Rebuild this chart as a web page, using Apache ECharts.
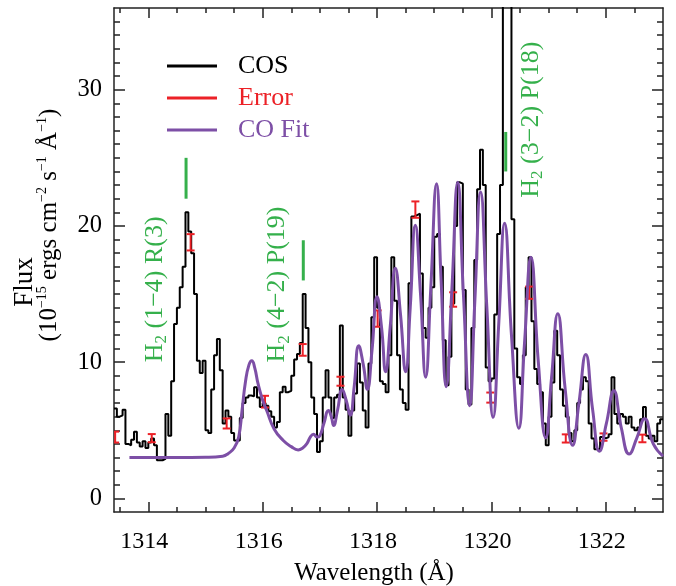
<!DOCTYPE html>
<html><head><meta charset="utf-8">
<script src="https://cdn.jsdelivr.net/npm/echarts@6/dist/echarts.min.js"></script>
<style>html,body{margin:0;padding:0;background:#fff}#c{width:676px;height:586px}</style>
</head><body><div id="c"></div>
<script>
// ---- data ----
const cosStart = 1313.40, cosStep = 0.05, cosEnd = 1323.0;
const cosFlux = [
 6.6,6.0,6.1,6.5,4.0,3.9,4.3,4.9,4.1,3.8,
 4.2,3.7,4.1,4.4,3.9,2.8,2.8,2.9,6.2,4.6,
 8.6,12.8,14.0,15.5,17.0,21.0,19.6,18.0,15.0,10.1,
 9.2,10.1,5.0,4.8,8.0,10.5,11.7,9.4,5.5,6.45,
 6.0,4.8,4.25,4.25,5.9,7.0,7.4,7.55,7.5,8.15,
 7.4,6.7,7.0,6.8,6.4,6.0,5.2,5.6,7.8,8.2,
 7.8,7.9,9.0,10.2,10.6,11.4,15.0,12.5,10.0,7.4,
 6.2,3.4,4.2,7.4,9.4,7.4,5.9,7.4,7.6,12.7,
 7.4,6.5,4.6,6.45,7.7,9.9,8.5,6.45,5.2,9.9,
 13.3,17.7,14.0,8.6,8.4,7.8,10.5,17.7,14.5,10.5,
 8.0,7.0,6.5,15.8,20.7,20.8,20.9,16.5,12.5,11.8,
 14.0,15.5,19.2,19.4,17.0,11.6,8.3,10.4,14.3,20.0,
 23.2,23.1,15.3,8.0,6.9,12.5,17.5,22.7,25.6,23.0,
 9.6,8.6,8.8,13.5,19.4,23.0,40,40,40,20.5,
 11.0,8.9,8.4,10.5,15.5,17.7,13.0,9.5,8.4,7.8,
 5.5,3.9,6.0,8.5,12.3,10.5,8.0,6.8,6.0,4.8,
 4.2,5.0,7.0,8.0,8.9,8.6,5.5,4.4,3.6,3.6,
 4.5,4.4,4.5,4.7,8.9,6.2,5.5,6.2,6.0,5.5,
 6.0,5.2,5.0,5.2,5.8,6.7,4.6,4.4,4.6,4.2,
 5.5,5.8
];
const fitWave = [1313.67,1314.50,1315.00,1315.30,1315.40,1315.50,1315.58,1315.64,1315.70,1315.76,1315.81,1315.86,1315.92,1316.00,1316.07,1316.20,1316.36,1316.50,1316.62,1316.70,1316.77,1316.84,1316.89,1316.95,1317.00,1317.07,1317.15,1317.20,1317.24,1317.31,1317.39,1317.46,1317.53,1317.60,1317.68,1317.76,1317.83,1317.91,1318.00,1318.08,1318.15,1318.23,1318.32,1318.41,1318.50,1318.58,1318.67,1318.76,1318.85,1318.94,1319.04,1319.12,1319.21,1319.31,1319.41,1319.51,1319.62,1319.71,1319.81,1319.92,1320.03,1320.13,1320.23,1320.35,1320.48,1320.58,1320.69,1320.82,1320.95,1321.05,1321.16,1321.29,1321.42,1321.53,1321.65,1321.77,1321.89,1322.01,1322.14,1322.27,1322.41,1322.54,1322.68,1322.83,1323.00];
const fitFlux = [3.00,3.00,3.02,3.10,3.30,3.70,4.5,6.5,8.6,9.8,10.1,9.6,8.4,7.2,6.45,5.1,4.25,3.8,3.56,3.7,4.0,4.55,4.7,4.5,4.6,5.5,6.45,6.0,5.35,6.5,8.0,7.2,6.1,8.2,11.2,9.8,8.0,10.8,14.8,12.5,9.3,12.6,16.9,13.5,9.3,14.0,20.05,15.0,8.9,15.5,23.1,16.0,8.2,15.5,23.2,15.0,6.8,14.5,22.5,14.0,5.95,13.0,20.2,12.0,5.15,11.5,17.7,10.0,4.45,8.8,13.56,8.0,3.9,7.0,10.57,6.5,3.46,5.5,7.9,5.2,3.26,4.4,5.84,4.0,3.1];
const errWave = [1313.42,1314.06,1314.74,1315.37,1316.04,1316.70,1317.36,1318.01,1318.67,1319.33,1319.98,1320.66,1321.30,1321.96,1322.64];
const errFlux = [4.5,4.42,18.8,5.5,7.1,10.9,8.6,13.2,21.2,14.6,7.4,15.1,4.4,4.5,4.4];
const errSize = [0.4,0.3,0.6,0.37,0.43,0.43,0.33,0.6,0.6,0.53,0.37,0.45,0.3,0.27,0.28];
const lineWave = [1314.66,1316.71,1320.25];
const lineLow  = [22.0,16.0,24.0];
const lineHigh = [25.0,18.95,26.9];
const lineLabels = ['{n|H}{s|2}{n| (1−4) R(3)}','{n|H}{s|2}{n| (4−2) P(19)}','{n|H}{s|2}{n| (3−2) P(18)}'];
const labelWave = [1314.12,1316.26,1320.70];
const labelFlux = [15.35,15.7,27.8];
const xMajor = [1314,1316,1318,1320,1322];
const xMinor = [1313.5,1314,1314.5,1315,1315.5,1316,1316.5,1317,1317.5,1318,1318.5,1319,1319.5,1320,1320.5,1321,1321.5,1322,1322.5];
const yMajor = [0,10,20,30];
const yMinor = [0,1,2,3,4,5,6,7,8,9,10,11,12,13,14,15,16,17,18,19,20,21,22,23,24,25,26,27,28,29,30,31,32,33,34,35];

// ---- colours / styles ----
const RED = '#ec2127', PURPLE = '#7d4fa6', GREEN = '#35b04b', FRAME = '#222';
const FONT = '"Liberation Serif", "DejaVu Serif", serif';

const cosData = cosFlux.map((v, i) => [+(cosStart + i * cosStep).toFixed(2), v]);
cosData.push([cosEnd, cosFlux[cosFlux.length - 1]]);
const fitData = fitWave.map((w, i) => [w, fitFlux[i]]);
const errData = errWave.map((w, i) => [w, errFlux[i], errSize[i]]);
const mkData = lineWave.map((w, i) => [w, lineLow[i], lineHigh[i]]);
const lblData = labelWave.map((w, i) => [w, labelFlux[i], i]);

function xAx(pos, ticks, len, showLine, labels) {
  return {
    type: 'value', min: 1313.4, max: 1323.0, position: pos, scale: true,
    axisLine: {show: showLine, onZero: false, lineStyle: {color: FRAME, width: 1.5}},
    axisTick: {show: true, inside: true, length: len, customValues: ticks, lineStyle: {color: FRAME, width: 1.5}},
    axisLabel: labels ? {show: true, customValues: xMajor, formatter: v => String(Math.round(v)), fontSize: 24, fontFamily: FONT, color: '#000', margin: 18, padding: [0, 8, 0, 0]} : {show: false},
    splitLine: {show: false}
  };
}
function yAx(pos, ticks, len, showLine, labels) {
  return {
    type: 'value', min: -1, max: 36, position: pos,
    axisLine: {show: showLine, onZero: false, lineStyle: {color: FRAME, width: 1.5}},
    axisTick: {show: true, inside: true, length: len, customValues: ticks, lineStyle: {color: FRAME, width: 1.5}},
    axisLabel: labels ? {show: true, customValues: yMajor, formatter: v => String(Math.round(v)), fontSize: 24.5, fontFamily: FONT, color: '#000', margin: 12} : {show: false},
    splitLine: {show: false}
  };
}

const chart = echarts.init(document.getElementById('c'), null, {renderer: 'canvas'});
chart.setOption({
  animation: false,
  backgroundColor: '#fff',
  grid: {left: 114, right: 13, top: 8, bottom: 74, containLabel: false},
  xAxis: [xAx('bottom', xMajor, 10, true, true), xAx('bottom', xMinor, 5, false, false),
          xAx('top', xMajor, 10, true, false), xAx('top', xMinor, 5, false, false)],
  yAxis: [yAx('left', yMajor, 11, true, true), yAx('left', yMinor, 6, false, false),
          yAx('right', yMajor, 11, true, false), yAx('right', yMinor, 6, false, false)],
  legend: {
    orient: 'vertical', left: 162, top: 47, itemWidth: 50, itemHeight: 3, itemGap: 4, icon: 'rect',
    textStyle: {fontSize: 26, fontFamily: FONT, lineHeight: 28, padding: [0, 0, 0, 16]},
    data: [
      {name: 'COS', textStyle: {color: '#000'}, itemStyle: {color: '#000'}},
      {name: 'Error', textStyle: {color: RED}, itemStyle: {color: RED}},
      {name: 'CO Fit', textStyle: {color: PURPLE}, itemStyle: {color: PURPLE}}
    ],
    selectedMode: false
  },
  graphic: [
    {type: 'text', x: 25, y: 282, rotation: Math.PI / 2,
     style: {text: 'Flux', fontSize: 27, fontFamily: FONT, fill: '#000', align: 'center', verticalAlign: 'middle'}},
    {type: 'text', x: 49, y: 225, rotation: Math.PI / 2,
     style: {text: '{n|(10}{p|−15}{n| ergs cm}{p|−2}{n| s}{p|−1}{n| Å}{p|−1}{n|)}', align: 'center', verticalAlign: 'middle', fill: '#000',
       rich: {n: {fontSize: 25, fontFamily: FONT, lineHeight: 28, verticalAlign: 'middle', fill: '#000'},
              p: {fontSize: 14, fontFamily: FONT, lineHeight: 14, verticalAlign: 'top', fill: '#000'}}}},
    {type: 'text', x: 374, y: 573,
     style: {text: 'Wavelength (Å)', fontSize: 25, fontFamily: FONT, fill: '#000', align: 'center', verticalAlign: 'middle'}}
  ],
  series: [
    {name: 'COS', type: 'line', step: 'end', data: cosData, showSymbol: false, symbol: 'none',
     lineStyle: {color: '#000', width: 2}, itemStyle: {color: '#000'}, clip: true, z: 2},
    {name: 'Error', type: 'custom', data: errData, encode: {x: 0, y: 1}, clip: true, z: 3,
     itemStyle: {color: RED},
     renderItem: (params, api) => {
       const x = api.value(0), y = api.value(1), e = api.value(2);
       const t = api.coord([x, y + e]), b = api.coord([x, y - e]);
       const hw = 4, st = {stroke: RED, lineWidth: 2};
       return {type: 'group', children: [
         {type: 'line', shape: {x1: t[0], y1: t[1], x2: b[0], y2: b[1]}, style: st},
         {type: 'line', shape: {x1: t[0] - hw, y1: t[1], x2: t[0] + hw, y2: t[1]}, style: st},
         {type: 'line', shape: {x1: b[0] - hw, y1: b[1], x2: b[0] + hw, y2: b[1]}, style: st}
       ]};
     }},
    {name: 'CO Fit', type: 'line', data: fitData, smooth: 0.5, showSymbol: false, symbol: 'none',
     lineStyle: {color: PURPLE, width: 3}, itemStyle: {color: PURPLE}, clip: true, z: 4},
    {name: 'H2 lines', type: 'custom', data: mkData, encode: {x: 0, y: [1, 2]}, z: 5,
     renderItem: (params, api) => {
       const a = api.coord([api.value(0), api.value(1)]), b = api.coord([api.value(0), api.value(2)]);
       return {type: 'line', shape: {x1: a[0], y1: a[1], x2: b[0], y2: b[1]}, style: {stroke: GREEN, lineWidth: 3}};
     }},
    {name: 'H2 labels', type: 'custom', data: lblData, encode: {x: 0, y: 1}, z: 5, clip: false,
     renderItem: (params, api) => {
       const p = api.coord([api.value(0), api.value(1)]);
       return {type: 'text', x: p[0], y: p[1], rotation: Math.PI / 2,
         style: {text: lineLabels[params.dataIndex], align: 'center', verticalAlign: 'middle', fill: GREEN,
           rich: {n: {fontSize: 26, fontFamily: FONT, lineHeight: 30, verticalAlign: 'middle', fill: GREEN},
                  s: {fontSize: 17, fontFamily: FONT, lineHeight: 17, verticalAlign: 'bottom', fill: GREEN}}}};
     }}
  ]
});
</script></body></html>
